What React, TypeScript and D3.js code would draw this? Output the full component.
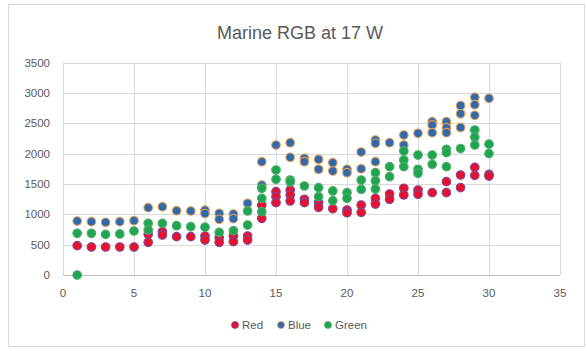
import React from "react";
import * as d3 from "d3";

const title = "Marine RGB at 17 W";
const xTicks = [0, 5, 10, 15, 20, 25, 30, 35];
const yTicks = [0, 500, 1000, 1500, 2000, 2500, 3000, 3500];

const redPoints: [number, number][] = [
  [1, 483], [2, 461], [3, 461], [4, 461], [5, 461],
  [6, 670], [6, 538], [7, 714], [7, 659], [8, 631], [9, 631],
  [10, 642], [10, 576], [11, 614], [11, 538], [12, 642], [12, 549],
  [13, 642], [13, 576], [14, 1153], [14, 933],
  [15, 1372], [15, 1290], [15, 1191], [16, 1400], [16, 1318], [16, 1219],
  [17, 1247], [17, 1191], [18, 1191], [18, 1115], [19, 1092],
  [20, 1070], [20, 1026], [21, 1153], [21, 1032], [22, 1263], [22, 1169],
  [23, 1334], [23, 1246], [24, 1428], [24, 1318], [25, 1400], [25, 1330],
  [26, 1356], [27, 1537], [27, 1356], [28, 1647], [28, 1440],
  [29, 1773], [29, 1640], [30, 1658], [30, 1630],
];

const bluePoints: [number, number][] = [
  [1, 889], [2, 878], [3, 867], [4, 878], [5, 895],
  [6, 1109], [7, 1125], [8, 1059], [9, 1054],
  [10, 1068], [10, 1013], [11, 1016], [11, 917], [12, 1005], [12, 928],
  [13, 1181], [14, 1866], [14, 1482], [15, 2141],
  [16, 2179], [16, 1938], [17, 1922], [17, 1866], [18, 1905], [18, 1741],
  [19, 1850], [19, 1713], [20, 1741], [20, 1685], [21, 2025], [21, 1750],
  [22, 2223], [22, 2169], [22, 1866], [23, 2179], [24, 2306], [24, 2141],
  [25, 2334], [26, 2525], [26, 2471], [26, 2344],
  [27, 2525], [27, 2426], [27, 2344], [28, 2790], [28, 2655], [28, 2430],
  [29, 2926], [29, 2805], [29, 2630], [30, 2910],
];

const greenPoints: [number, number][] = [
  [1, 687], [1, 0], [2, 687], [3, 670], [4, 676], [5, 725],
  [6, 851], [6, 741], [7, 851], [8, 812], [9, 796], [10, 788],
  [11, 703], [12, 730], [13, 1054], [13, 823],
  [14, 1428], [14, 1263], [14, 1043], [15, 1729], [15, 1576],
  [16, 1565], [16, 1532], [17, 1466], [18, 1438], [18, 1290],
  [19, 1384], [19, 1224], [20, 1356], [20, 1263], [21, 1565], [21, 1410],
  [22, 1685], [22, 1553], [22, 1416], [23, 1784], [23, 1619],
  [24, 2042], [24, 1894], [24, 1784], [25, 1976], [25, 1741], [25, 1675],
  [26, 1976], [26, 1823], [27, 2070], [27, 2015], [27, 1784], [28, 2083],
  [29, 2388], [29, 2268], [29, 2141], [30, 2155], [30, 2000],
];

const seriesNames = ["Red", "Blue", "Green"];

const seriesStyle: Record<string, { fill: string; stroke: string }> = {
  Red: { fill: "#e8102a", stroke: "#7b4a9e" },
  Blue: { fill: "#2e6bad", stroke: "#e39a55" },
  Green: { fill: "#1fa552", stroke: "#4fae6a" },
};

export default function App() {
  const W = 587;
  const H = 351;
  const x = d3.scaleLinear().domain([0, 35]).range([63, 560]);
  const y = d3.scaleLinear().domain([0, 3500]).range([275, 62.5]);
  const font = "'Liberation Sans', Arial, sans-serif";
  const seriesData: Record<string, [number, number][]> = {
    Red: redPoints,
    Blue: bluePoints,
    Green: greenPoints,
  };
  const legendX = [235, 281, 328];

  return (
    <svg
      width={W}
      height={H}
      style={{ position: "fixed", left: 0, top: 0, background: "#fff" }}
      fontFamily={font}
    >
      <rect x={0} y={0} width={W} height={H} fill="#fff" />
      <rect x={8.5} y={4.5} width={576} height={342} fill="#fff" stroke="#d9d9d9" />
      <text x={300} y={39} textAnchor="middle" fontSize={18} fill="#595959">
        {title}
      </text>
      {yTicks.map((t) => (
        <g key={"y" + t}>
          <line x1={x(0)} x2={x(35)} y1={Math.round(y(t)) + 0.5} y2={Math.round(y(t)) + 0.5}
            stroke={t === 0 ? "#bfbfbf" : "#d9d9d9"} />
          <text x={50} y={y(t) + 4} textAnchor="end" fontSize={11.5} fill="#595959">{t}</text>
        </g>
      ))}
      {xTicks.map((t) => (
        <g key={"x" + t}>
          <line x1={Math.round(x(t)) + 0.5} x2={Math.round(x(t)) + 0.5} y1={y(3500)} y2={y(0)} stroke="#d9d9d9" />
          <text x={x(t)} y={297} textAnchor="middle" fontSize={11.5} fill="#595959">{t}</text>
        </g>
      ))}
      {seriesNames.map((name) => (
        <g key={name}>
          {seriesData[name].map(([xv, yv], i) => (
            <circle key={i} cx={x(xv)} cy={y(yv)} r={4.3}
              fill={seriesStyle[name].fill} stroke={seriesStyle[name].stroke} strokeWidth={1.1} />
          ))}
        </g>
      ))}
      {seriesNames.map((name, i) => (
        <g key={"leg" + name}>
          <circle cx={legendX[i]} cy={325} r={3.5} fill={seriesStyle[name].fill} stroke={seriesStyle[name].stroke} strokeWidth={0.8} />
          <text x={legendX[i] + 7} y={329} fontSize={11.5} fill="#595959">{name}</text>
        </g>
      ))}
    </svg>
  );
}
